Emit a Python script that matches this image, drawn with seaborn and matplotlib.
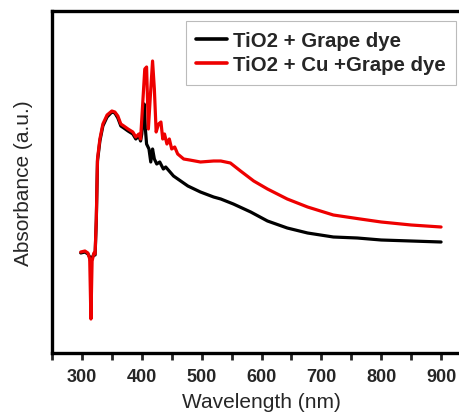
import numpy as np
import pandas as pd
import matplotlib
matplotlib.use("Agg")
import matplotlib.pyplot as plt
import seaborn as sns

# Wavelength (nm) and absorbance (a.u.)
red_wl = [298, 305, 310, 313, 315, 317, 320, 322, 324, 326, 330, 335, 342, 350, 355, 360,
          365, 370, 377, 385, 390, 395, 398, 402, 405, 408, 411, 414, 418, 421, 424, 428,
          432, 435, 438, 442, 446, 450, 455, 460, 470, 480, 498, 520, 532, 548, 565, 587,
          610, 643, 677, 720, 765, 800, 850, 900]
red_abs = [1.01, 1.02, 1.00, 0.94, 0.34, 0.92, 1.00, 0.99, 1.34, 1.94, 2.14, 2.29, 2.38, 2.42, 2.41, 2.37,
           2.29, 2.27, 2.24, 2.21, 2.16, 2.19, 2.14, 2.54, 2.84, 2.86, 2.24, 2.54, 2.92, 2.64, 2.21, 2.29,
           2.31, 2.14, 2.19, 2.09, 2.14, 2.04, 2.06, 1.99, 1.94, 1.93, 1.91, 1.92, 1.92, 1.90, 1.82, 1.72,
           1.64, 1.54, 1.46, 1.38, 1.34, 1.31, 1.28, 1.26]

black_wl = [298, 305, 310, 313, 315, 317, 320, 322, 324, 326, 330, 335, 342, 350, 355, 360,
            365, 370, 377, 385, 390, 395, 398, 400, 404, 406, 408, 412, 415, 418, 421, 425,
            430, 436, 440, 453, 465, 477, 498, 520, 532, 553, 582, 610, 643, 677, 720, 760,
            800, 850, 900]
black_abs = [1.00, 1.01, 0.99, 0.96, 0.90, 0.95, 0.99, 0.98, 1.32, 1.92, 2.12, 2.27, 2.36, 2.41, 2.40, 2.35,
             2.27, 2.25, 2.22, 2.19, 2.14, 2.17, 2.12, 2.19, 2.49, 2.24, 2.09, 2.04, 1.91, 2.04, 1.94, 1.89,
             1.91, 1.84, 1.86, 1.77, 1.72, 1.67, 1.61, 1.56, 1.54, 1.49, 1.41, 1.32, 1.25, 1.20, 1.16, 1.15,
             1.13, 1.12, 1.11]

labels = ["TiO2 + Grape dye", "TiO2 + Cu +Grape dye"]
colors = ["#000000", "#EE0000"]

df = pd.concat([
    pd.DataFrame({"wl": black_wl, "abs": black_abs, "sample": labels[0]}),
    pd.DataFrame({"wl": red_wl, "abs": red_abs, "sample": labels[1]}),
])

sns.set_style("ticks")
plt.rcParams["font.family"] = ["Liberation Sans", "DejaVu Sans"]

fig = plt.figure(figsize=(4.6, 4.14), dpi=100)
ax = fig.add_axes([52 / 460, 60 / 414, 419 / 460, 342 / 414])

sns.lineplot(data=df, x="wl", y="abs", hue="sample", palette=dict(zip(labels, colors)),
             linewidth=2.3, sort=False, estimator=None, ax=ax)

ax.set_xlim(250, 950)
ax.set_ylim(0, 3.42)
ax.set_xticks([300, 400, 500, 600, 700, 800, 900])
ax.set_xticks([250, 350, 450, 550, 650, 750, 850, 950], minor=True)
ax.set_yticks([])
ax.tick_params(axis="x", which="both", direction="out", length=5, width=2, pad=6)
for lab in ax.get_xticklabels():
    lab.set_fontweight("bold")
    lab.set_fontsize(13)
for s in ax.spines.values():
    s.set_linewidth(2.4)
    s.set_color("black")
ax.spines["right"].set_visible(False)

ax.set_xlabel("Wavelength (nm)", fontsize=15, labelpad=5)
ax.set_ylabel("Absorbance (a.u.)", fontsize=15, labelpad=14)

leg = ax.legend(loc="upper left", bbox_to_anchor=(186 / 460, 1 - 22 / 414),
                bbox_transform=fig.transFigure, borderaxespad=0, frameon=True,
                fancybox=False, edgecolor="#aaaaaa", handlelength=1.5, handletextpad=0.3,
                labelspacing=0.25, borderpad=0.5,
                prop={"weight": "bold", "size": 14.7})
leg.get_frame().set_linewidth(0.8)
for h in leg.get_lines():
    h.set_linewidth(2.6)

fig.savefig("out.png", dpi=100)
